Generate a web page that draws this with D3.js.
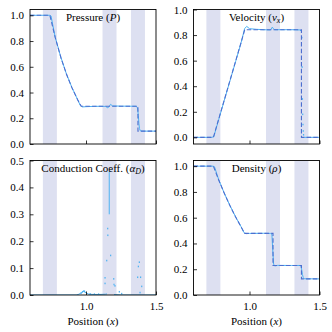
<!DOCTYPE html>
<html>
<head>
<meta charset="utf-8">
<script src="https://cdn.jsdelivr.net/npm/d3@7"></script>
<style>
  body { margin: 0; background: #fff; }
  svg { display: block; }
</style>
</head>
<body>
<div id="chart"></div>
<script>
// Sod shock tube: SPH particles (light blue) vs exact solution (dashed)

// shaded regions (rarefaction head, contact, shock)
const bands = [[0.692, 0.792], [1.118, 1.218], [1.321, 1.421]];

// exact solution
const exactX = [0.6, 0.742, 0.78, 0.82, 0.86, 0.90, 0.94, 0.966, 1.168, 1.168, 1.371, 1.371, 1.5];
const exactP = [1, 1, 0.828, 0.674, 0.544, 0.436, 0.344, 0.293, 0.293, 0.293, 0.293, 0.1, 0.1];
const exactV = [0, 0, 0.143, 0.293, 0.443, 0.593, 0.743, 0.842, 0.842, 0.842, 0.842, 0, 0];
const exactRho = [1, 1, 0.893, 0.789, 0.694, 0.607, 0.528, 0.478, 0.478, 0.229, 0.229, 0.125, 0.125];
const exactA = [0, 0, 0, 0, 0, 0, 0, 0, 0, 0, 0, 0, 0];

// simulation (null = gap in the line)
const simPX = [0.6, 0.74, 0.75, 0.78, 0.82, 0.86, 0.90, 0.94, 0.96, 0.975, 1.0, 1.05, 1.10, 1.14, 1.155, 1.165, 1.175, 1.19, 1.25, 1.30, 1.36, 1.368, 1.374, 1.378, 1.382, 1.388, 1.40, 1.5];
const simP = [1, 1, 0.995, 0.83, 0.675, 0.545, 0.437, 0.346, 0.298, 0.288, 0.29, 0.292, 0.293, 0.292, 0.282, 0.29, 0.308, 0.296, 0.294, 0.294, 0.293, 0.28, 0.22, 0.16, 0.12, 0.102, 0.1, 0.1];

const simVX = [0.6, 0.73, 0.745, 0.78, 0.82, 0.86, 0.90, 0.94, 0.965, 0.98, 1.0, 1.05, 1.1, 1.15, 1.163, 1.17, 1.18, 1.25, 1.3, 1.36, 1.37, 1.376, 1.388, 1.39, 1.5];
const simV = [0, 0, 0.005, 0.14, 0.29, 0.44, 0.59, 0.74, 0.85, 0.868, 0.85, 0.845, 0.842, 0.84, 0.862, 0.85, 0.842, 0.842, 0.842, 0.84, 0.83, null, null, 0, 0];
const simVDotX = [1.374, 1.376, 1.378, 1.38, 1.382, 1.384, 1.386];
const simVDot = [0.78, 0.55, 0.3, 0.18, 0.1, 0.05, 0.02];

const simRhoX = [0.6, 0.74, 0.75, 0.78, 0.82, 0.86, 0.90, 0.94, 0.96, 0.975, 1.0, 1.1, 1.15, 1.16, 1.166, 1.172, 1.18, 1.2, 1.3, 1.36, 1.368, 1.374, 1.378, 1.384, 1.39, 1.5];
const simRho = [1, 1, 0.995, 0.895, 0.79, 0.695, 0.608, 0.53, 0.485, 0.476, 0.478, 0.479, 0.478, 0.47, 0.35, 0.24, 0.225, 0.23, 0.229, 0.229, 0.22, 0.19, 0.16, 0.135, 0.126, 0.125];

const simAX = [0.6, 0.93, 0.95, 0.97, 0.985, 1.0, 1.02, 1.05, 1.1, 1.14, 1.15, 1.156, 1.166, 1.166, 1.166, 1.17, 1.2, 1.25, 1.37, 1.5];
const simA = [0, 0, 0.003, 0.01, 0.014, 0.008, 0.003, 0.002, 0.002, 0.003, 0.004, null, 0.30, 0.46, null, null, 0.002, 0, 0, 0];
const simADotX = [0.965, 0.975, 0.985, 0.99, 1.03, 1.06, 1.09, 1.155, 1.156, 1.176, 1.148, 1.136, 1.198, 1.136, 1.2, 1.207, 1.238, 1.255, 1.381, 1.374, 1.39, 1.369, 1.398, 1.386];
const simADot = [0.006, 0.012, 0.015, 0.013, 0.004, 0.003, 0.003, 0.247, 0.222, 0.147, 0.128, 0.064, 0.06, 0.043, 0.039, 0.034, 0.012, 0.005, 0.122, 0.106, 0.066, 0.066, 0.032, 0.009];

const yTicksMain = [0, 0.2, 0.4, 0.6, 0.8, 1.0];
const yTicksA = [0, 0.1, 0.2, 0.3, 0.4, 0.5];
const xTicks = [1.0, 1.5];

const simColor = "#4cb2f2";
const exactColor = "#4d6fd0";
const bandColor = "#dde0f1";
const serif = '"Liberation Serif"';

const panels = [
  { title: ["Pressure (", "P", ")"], col: 0, row: 0, ex: exactP, sx: simPX, sy: simP, dx: [], dy: [], ylim: [0, 1.045], ticks: yTicksMain },
  { title: ["Velocity (", "v", "x", ")"], col: 1, row: 0, ex: exactV, sx: simVX, sy: simV, dx: simVDotX, dy: simVDot, ylim: [-0.052, 1.0], ticks: yTicksMain },
  { title: ["Conduction Coeff. (", "α", "D", ")"], col: 0, row: 1, ex: exactA, sx: simAX, sy: simA, dx: simADotX, dy: simADot, ylim: [0, 0.5], ticks: yTicksA, noExact: true },
  { title: ["Density (", "ρ", ")"], col: 1, row: 1, ex: exactRho, sx: simRhoX, sy: simRho, dx: [], dy: [], ylim: [0, 1.044], ticks: yTicksMain }
];

const W = 332, H = 332;
const colX = [30, 193.5];
const rowY = [9.5, 160.5];
const pw = 126, ph = 134.5;

const svg = d3.select("#chart").append("svg")
  .attr("width", W).attr("height", H);

panels.forEach(p => {
  const x0 = colX[p.col], y0 = rowY[p.row];
  const g = svg.append("g").attr("transform", `translate(${x0},${y0})`);
  const x = d3.scaleLinear().domain([0.6, 1.5]).range([0, pw]);
  const y = d3.scaleLinear().domain(p.ylim).range([ph, 0]);

  const clipId = "clip" + p.col + p.row;
  g.append("clipPath").attr("id", clipId)
    .append("rect").attr("width", pw).attr("height", ph);

  const plot = g.append("g").attr("clip-path", `url(#${clipId})`);

  // bands
  plot.selectAll(".band").data(bands).join("rect")
    .attr("x", d => x(d[0]))
    .attr("width", d => x(d[1]) - x(d[0]))
    .attr("y", 0).attr("height", ph)
    .attr("fill", bandColor);

  // simulation line
  const simPts = p.sx.map((v, i) => [v, p.sy[i]]);
  plot.append("path")
    .datum(simPts)
    .attr("fill", "none")
    .attr("stroke", simColor)
    .attr("stroke-width", 1)
    .attr("d", d3.line().defined(d => d[1] !== null).x(d => x(d[0])).y(d => y(d[1])));

  // scattered particles
  plot.selectAll(".dot").data(p.dx.map((v, i) => [v, p.dy[i]])).join("rect")
    .attr("x", d => x(d[0]) - 0.6)
    .attr("y", d => y(d[1]) - 0.8)
    .attr("width", 1.2).attr("height", 1.6)
    .attr("fill", simColor);

  // exact solution
  if (!p.noExact) {
    plot.append("path")
      .datum(exactX.map((v, i) => [v, p.ex[i]]))
      .attr("fill", "none")
      .attr("stroke", exactColor)
      .attr("stroke-width", 1.1)
      .attr("stroke-dasharray", "4.5,2.2")
      .attr("d", d3.line().x(d => x(d[0])).y(d => y(d[1])));
  }

  // axes (ticks inward)
  const yAxis = d3.axisLeft(y).tickValues(p.ticks).tickFormat(d3.format(".1f"))
    .tickSizeInner(-3.5).tickSizeOuter(0).tickPadding(6);
  const ya = g.append("g").call(yAxis);
  const xAxis = d3.axisBottom(x).tickValues(xTicks).tickFormat(p.row === 1 ? d3.format(".1f") : "")
    .tickSizeInner(-3.5).tickSizeOuter(0).tickPadding(7);
  const xa = g.append("g").attr("transform", `translate(0,${ph})`).call(xAxis);
  [ya, xa].forEach(a => {
    a.attr("font-family", null).attr("font-size", null);
    a.select(".domain").remove();
    a.selectAll("line").attr("stroke", "#000").attr("stroke-width", 0.8);
    a.selectAll("text").attr("fill", "#000")
      .style("font-family", serif).style("font-size", "11px");
  });

  // frame
  g.append("rect").attr("width", pw).attr("height", ph)
    .attr("fill", "none").attr("stroke", "#000").attr("stroke-width", 0.9);

  // title
  const t = g.append("text")
    .attr("x", pw / 2).attr("y", 11)
    .attr("text-anchor", "middle")
    .style("font-family", serif).style("font-size", "11px");
  t.append("tspan").text(p.title[0]);
  t.append("tspan").style("font-style", "italic").text(p.title[1]);
  if (p.title.length === 4) {
    t.append("tspan").style("font-style", "italic").style("font-size", "8px").attr("dy", 2).text(p.title[2]);
    t.append("tspan").attr("dy", -2).text(p.title[3]);
  } else {
    t.append("tspan").text(p.title[2]);
  }

  if (p.row === 1) {
    const xl = g.append("text")
      .attr("x", pw / 2).attr("y", ph + 30)
      .attr("text-anchor", "middle")
      .style("font-family", serif).style("font-size", "11px");
    xl.append("tspan").text("Position (");
    xl.append("tspan").style("font-style", "italic").text("x");
    xl.append("tspan").text(")");
  }
});

// force text layout so the serif face is resolved before the snapshot
svg.selectAll("text").each(function () { this.getComputedTextLength(); });
</script>
</body>
</html>
